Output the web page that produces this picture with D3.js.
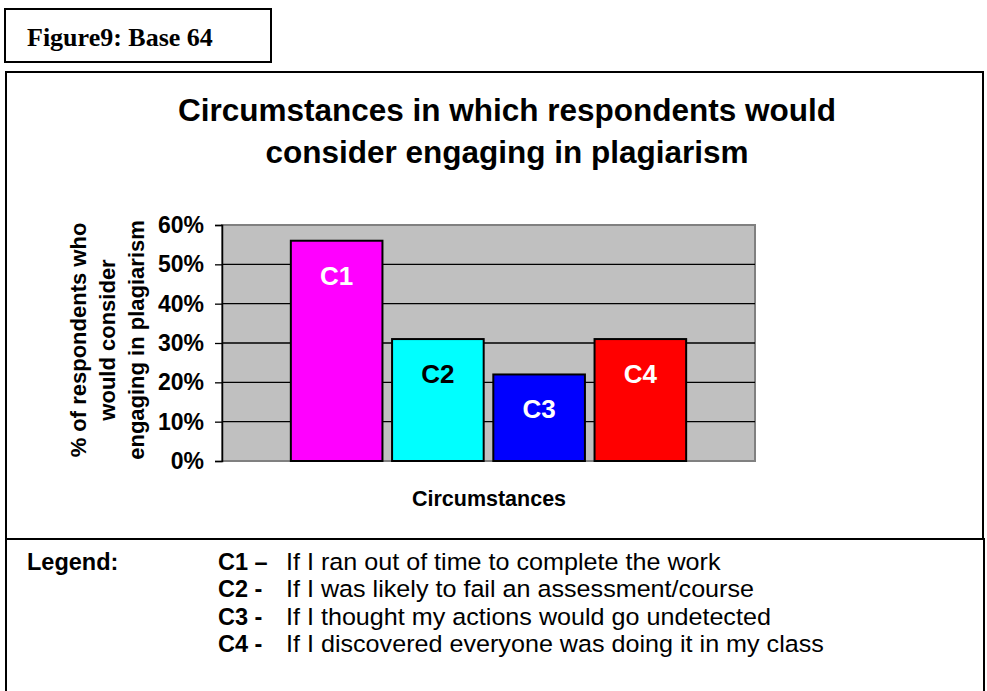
<!DOCTYPE html>
<html><head><meta charset="utf-8">
<script src="https://cdn.jsdelivr.net/npm/d3@7/dist/d3.min.js"></script>
<style>body{margin:0;background:#fff}svg{display:block}</style>
</head><body>
<script>
const categories = ["C1", "C2", "C3", "C4"];
const values = [0.56, 0.31, 0.22, 0.31];
const barColors = ["#ff00ff", "#00ffff", "#0000ff", "#ff0000"];
const labelColors = ["#ffffff", "#000000", "#ffffff", "#ffffff"];
const yTicks = [0, 0.1, 0.2, 0.3, 0.4, 0.5, 0.6];
const legendKeys = ["C1 \u2013", "C2 -", "C3 -", "C4 -"];
const legendTexts = [
  "If I ran out of time to complete the work",
  "If I was likely to fail an assessment/course",
  "If I thought my actions would go undetected",
  "If I discovered everyone was doing it in my class"
];
const titleLines = ["Circumstances in which respondents would", "consider engaging in plagiarism"];
const yTitleLines = ["% of respondents who", "would consider", "engaging in plagiarism"];

const W = 987, H = 691;
const svg = d3.select("body").append("svg").attr("width", W).attr("height", H);
const arial = "Arial, 'Liberation Sans', sans-serif";

// figure label box
svg.append("rect").attr("x", 5).attr("y", 9).attr("width", 266).attr("height", 53)
  .attr("fill", "none").attr("stroke", "#000").attr("stroke-width", 2);
svg.append("text").attr("x", 27).attr("y", 46)
  .attr("font-family", "'Liberation Serif', 'Times New Roman', serif").attr("font-weight", "bold")
  .attr("font-size", 26).text("Figure9: Base 64");

// main box
svg.append("path").attr("d", "M6,691 V72 H983 V539 M6,539 H984 V691")
  .attr("fill", "none").attr("stroke", "#000").attr("stroke-width", 2);

// title
svg.append("g").selectAll("text").data(titleLines).join("text")
  .attr("x", 507).attr("y", (d, i) => 121 + i * 42)
  .attr("text-anchor", "middle").attr("font-family", arial).attr("font-weight", "bold")
  .attr("font-size", 31.5).text(d => d);

// plot
const px0 = 222, px1 = 755, py0 = 225, py1 = 461;
const x = d3.scaleBand().domain(categories).range([px0, px1]).paddingInner(0.095).paddingOuter(0.68);
const y = d3.scaleLinear().domain([0, 0.6]).range([py1, py0]);

svg.append("rect").attr("x", px0).attr("y", py0).attr("width", px1 - px0).attr("height", py1 - py0)
  .attr("fill", "#c0c0c0").attr("stroke", "#808080").attr("stroke-width", 2);

svg.append("g").selectAll("line").data(yTicks.filter(t => t > 0 && t < 0.6)).join("line")
  .attr("x1", px0).attr("x2", px1).attr("y1", d => y(d)).attr("y2", d => y(d))
  .attr("stroke", "#000").attr("stroke-width", 1.3);

const yAxis = d3.axisLeft(y).tickValues(yTicks).tickFormat(d3.format(".0%")).tickSize(7).tickPadding(11);
const ga = svg.append("g").attr("transform", `translate(${px0},0)`).call(yAxis);
ga.select(".domain").attr("stroke", "#000").attr("stroke-width", 1.5);
ga.selectAll(".tick line").attr("stroke", "#000").attr("stroke-width", 1.3);
ga.selectAll(".tick text").attr("font-family", arial).attr("font-weight", "bold")
  .attr("font-size", 23).attr("fill", "#000");

// bars
svg.append("g").selectAll("rect").data(categories).join("rect")
  .attr("x", d => x(d)).attr("y", (d, i) => y(values[i]))
  .attr("width", x.bandwidth()).attr("height", (d, i) => y(0) - y(values[i]))
  .attr("fill", (d, i) => barColors[i]).attr("stroke", "#000").attr("stroke-width", 2);

svg.append("g").selectAll("text").data(categories).join("text")
  .attr("x", d => x(d) + x.bandwidth() / 2).attr("y", (d, i) => y(values[i]) + 44)
  .attr("text-anchor", "middle").attr("font-family", arial).attr("font-weight", "bold")
  .attr("font-size", 26).attr("fill", (d, i) => labelColors[i]).text(d => d);

// y title
const yt = svg.append("g").attr("transform", "translate(0,340) rotate(-90)");
yt.selectAll("text").data(yTitleLines).join("text")
  .attr("x", 0).attr("y", (d, i) => 86 + i * 29)
  .attr("text-anchor", "middle").attr("font-family", arial).attr("font-weight", "bold")
  .attr("font-size", 22).text(d => d);

// x title
svg.append("text").attr("x", 489).attr("y", 506).attr("text-anchor", "middle")
  .attr("font-family", arial).attr("font-weight", "bold").attr("font-size", 21.5).text("Circumstances");

// legend
const rowY = i => 570 + i * 27.3;
svg.append("text").attr("x", 27).attr("y", rowY(0)).attr("font-family", arial).attr("font-weight", "bold")
  .attr("font-size", 23.5).text("Legend:");
const lg = svg.append("g");
lg.selectAll("text.k").data(legendKeys).join("text").attr("class", "k")
  .attr("x", 218).attr("y", (d, i) => rowY(i))
  .attr("font-family", arial).attr("font-weight", "bold").attr("font-size", 23.5).text(d => d);
lg.selectAll("text.t").data(legendTexts).join("text").attr("class", "t")
  .attr("transform", (d, i) => `translate(286,${rowY(i)}) scale(1.07,1)`)
  .attr("font-family", arial).attr("font-size", 23.5).text(d => d);
</script>
</body></html>
